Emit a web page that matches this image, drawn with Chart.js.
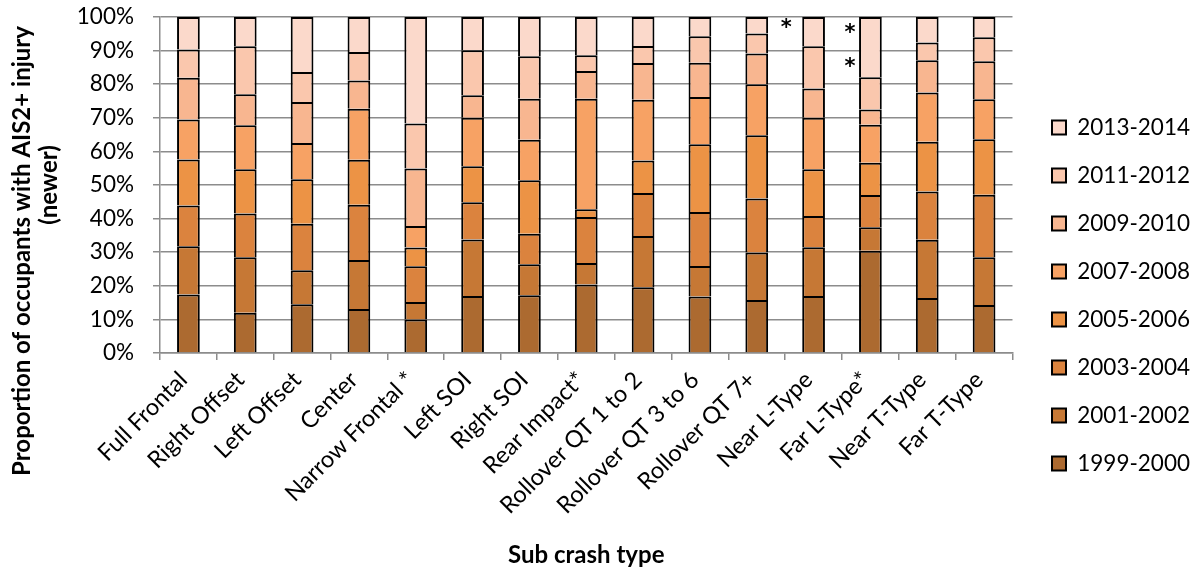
<!DOCTYPE html>
<html>
<head>
<meta charset="utf-8">
<script src="https://cdn.jsdelivr.net/npm/chart.js@4/dist/chart.umd.min.js"></script>
<style>
  body { margin: 0; background: #fff; }
</style>
</head>
<body>
<canvas id="chart" width="1198" height="574"></canvas>
<script>
// Categories
const crashTypes = [
  'Full Frontal', 'Right Offset', 'Left Offset', 'Center', 'Narrow Frontal *',
  'Left SOI', 'Right SOI', 'Rear Impact*', 'Rollover QT 1 to 2', 'Rollover QT 3 to 6',
  'Rollover QT 7+', 'Near L-Type', 'Far L-Type*', 'Near T-Type', 'Far T-Type'
];

// Share (%) per model-year group
const my1999 = [17.4, 12.0, 14.5, 13.1, 10.0, 17.0, 17.2, 20.4, 19.6, 16.8, 15.8, 17.0, 30.4, 16.4, 14.3];
const my2001 = [14.4, 16.5, 10.1, 14.6,  5.2, 16.8,  9.2,  6.4, 15.2,  9.1, 14.1, 14.5,  7.0, 17.3, 14.2];
const my2003 = [12.1, 13.0, 13.9, 16.4, 10.6, 11.1,  9.1, 13.7, 12.8, 16.1, 16.1,  9.3,  9.6, 14.4, 18.6];
const my2005 = [13.7, 13.2, 13.2, 13.4,  5.6, 10.7, 15.9,  2.3,  9.7, 20.1, 18.8, 13.9,  9.6, 14.8, 16.5];
const my2007 = [11.9, 13.1, 10.8, 15.2,  6.4, 14.4, 12.1, 32.9, 18.1, 14.1, 15.2, 15.3, 11.3, 14.6, 11.9];
const my2009 = [12.4,  9.2, 12.2,  8.4, 17.1,  6.7, 12.2,  8.2, 10.9, 10.2,  9.1,  8.7,  4.6,  9.6, 11.3];
const my2011 = [ 8.4, 14.3,  8.9,  8.5, 13.4, 13.4, 12.6,  4.7,  5.1,  7.9,  6.0, 12.6,  9.6,  5.3,  7.2];
const my2013 = [ 9.7,  8.7, 16.4, 10.4, 31.7,  9.9, 11.7, 11.4,  8.6,  5.7,  4.9,  8.7, 17.9,  7.6,  6.0];

const yTicks = [0, 10, 20, 30, 40, 50, 60, 70, 80, 90, 100];

// significance marks: [category index, value %]
const starMarks = [[10.52, 98.1], [11.64, 96.6], [11.64, 86.7]];

const FONT = 'Lato, Carlito, Calibri, sans-serif';
const LEGEND_SHIFT = 14;

function series(label, data, color) {
  return {
    label: label,
    data: data,
    backgroundColor: color,
    borderColor: '#000',
    borderWidth: 2,
    barPercentage: 0.8,
    categoryPercentage: 0.5
  };
}

function vText(ctx, text, cx, cy) {
  ctx.save();
  ctx.fillStyle = '#000';
  ctx.font = 'bold 24px ' + FONT;
  ctx.textAlign = 'center';
  ctx.textBaseline = 'middle';
  ctx.translate(cx, cy);
  ctx.rotate(-Math.PI / 2);
  ctx.fillText(text, 0, 0);
  ctx.restore();
}

const extrasPlugin = {
  id: 'extras',
  // keep the plot narrow but push the legend back to the right edge
  afterLayout(chart) {
    const lg = chart.legend;
    if (lg) { lg.left += LEGEND_SHIFT; lg.right += LEGEND_SHIFT; }
  },
  afterDatasetsDraw(chart) {
    const { ctx, scales: { x, y } } = chart;
    ctx.save();
    ctx.fillStyle = '#000';
    ctx.font = 'bold 21px "DejaVu Sans", sans-serif';
    ctx.textAlign = 'center';
    ctx.textBaseline = 'alphabetic';
    const m = ctx.measureText('*');
    const dy = (m.actualBoundingBoxAscent - m.actualBoundingBoxDescent) / 2;
    starMarks.forEach(([i, v]) => {
      ctx.fillText('*', x.getPixelForValue(i), y.getPixelForValue(v) + dy);
    });
    ctx.restore();
  },
  afterDraw(chart) {
    vText(chart.ctx, 'Proportion of occupants with AIS2+ injury', 22, 251);
    vText(chart.ctx, '(newer)', 49, 185);
  }
};

new Chart(document.getElementById('chart'), {
  type: 'bar',
  data: {
    labels: crashTypes,
    datasets: [
      series('1999-2000', my1999, '#AC6A30'),
      series('2001-2002', my2001, '#C67835'),
      series('2003-2004', my2003, '#DB833E'),
      series('2005-2006', my2005, '#EC9345'),
      series('2007-2008', my2007, '#F7A264'),
      series('2009-2010', my2009, '#F8B690'),
      series('2011-2012', my2011, '#FAC7AD'),
      series('2013-2014', my2013, '#FBD9CB')
    ]
  },
  options: {
    responsive: false,
    animation: false,
    layout: { padding: { top: 17, right: -2 + LEGEND_SHIFT, left: 0, bottom: 0 } },
    plugins: {
      legend: {
        position: 'right',
        reverse: true,
        labels: {
          color: '#000',
          font: { family: FONT, size: 22.5 },
          boxWidth: 14,
          boxHeight: 14,
          padding: 25.5
        }
      },
      tooltip: { enabled: false }
    },
    scales: {
      x: {
        stacked: true,
        afterFit(axis) { axis.height = 221; },
        grid: {
          display: true,
          drawOnChartArea: false,
          offset: true,
          color: '#8c8c8c',
          lineWidth: 1.5,
          tickLength: 7
        },
        border: { color: '#8c8c8c', width: 1.5 },
        ticks: {
          color: '#000',
          font: { family: FONT, size: 23.5 },
          minRotation: 45,
          maxRotation: 45,
          autoSkip: false,
          padding: 6,
          labelOffset: -5
        },
        title: {
          display: true,
          text: 'Sub crash type',
          color: '#000',
          font: { family: FONT, size: 24, weight: 'bold' },
          padding: { top: 4, bottom: 4 }
        }
      },
      y: {
        stacked: true,
        min: 0,
        max: 100,
        afterFit(axis) {
          axis.width = 160;
          axis.paddingTop = 0;
          axis.paddingBottom = 0;
        },
        afterBuildTicks(axis) {
          axis.ticks = yTicks.map(v => ({ value: v }));
        },
        grid: {
          color: '#8c8c8c',
          lineWidth: 1.5,
          tickLength: 7
        },
        border: { color: '#8c8c8c', width: 1.5 },
        ticks: {
          color: '#000',
          font: { family: FONT, size: 22.5 },
          padding: 19,
          callback: v => v + '%'
        }
      }
    }
  },
  plugins: [extrasPlugin]
});
</script>
</body>
</html>
